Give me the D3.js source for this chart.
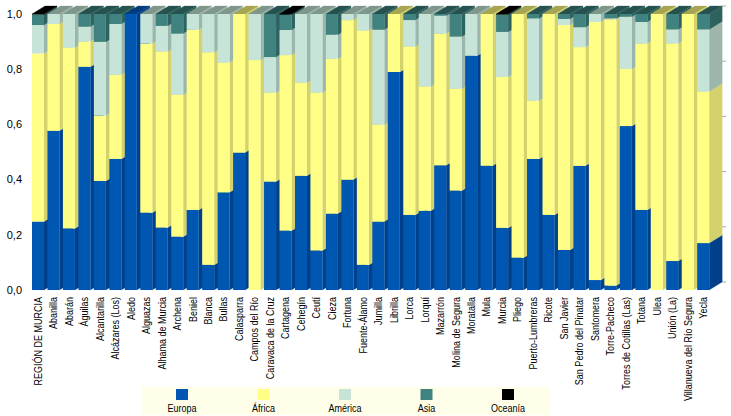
<!DOCTYPE html>
<html><head><meta charset="utf-8">
<script src="https://cdn.jsdelivr.net/npm/d3@7"></script>
<style>body{margin:0;background:#fff}svg{display:block}</style>
</head><body><svg id="c" width="731" height="416"></svg>
<script>
const categories = ["REGIÓN DE MURCIA","Abanilla","Abarán","Águilas","Alcantarilla","Alcázares (Los)","Aledo","Alguazas","Alhama de Murcia","Archena","Beniel","Blanca","Bullas","Calasparra","Campos del Río","Caravaca de la Cruz","Cartagena","Cehegín","Ceutí","Cieza","Fortuna","Fuente-Álamo","Jumilla","Librilla","Lorca","Lorquí","Mazarrón","Molina de Segura","Moratalla","Mula","Murcia","Pliego","Puerto-Lumbreras","Ricote","San Javier","San Pedro del Pinatar","Santomera","Torre-Pacheco","Torres de Cotillas (Las)","Totana","Ulea","Unión (La)","Villanueva del Río Segura","Yecla"];
const europa  = [0.248,0.577,0.223,0.809,0.395,0.475,1.000,0.280,0.226,0.193,0.290,0.091,0.354,0.498,0.000,0.393,0.215,0.414,0.143,0.277,0.400,0.091,0.248,0.790,0.272,0.287,0.452,0.360,0.849,0.450,0.225,0.117,0.475,0.272,0.145,0.450,0.036,0.016,0.594,0.290,0.000,0.105,0.000,0.170];
const africa  = [0.609,0.387,0.655,0.091,0.237,0.305,0.000,0.613,0.638,0.514,0.653,0.770,0.470,0.502,0.833,0.322,0.636,0.337,0.572,0.561,0.578,0.849,0.351,0.210,0.610,0.450,0.477,0.369,0.000,0.550,0.547,0.883,0.211,0.728,0.815,0.430,0.935,0.964,0.207,0.603,1.000,0.788,1.000,0.549];
const america = [0.103,0.036,0.122,0.054,0.267,0.184,0.000,0.107,0.093,0.222,0.057,0.139,0.176,0.000,0.167,0.129,0.091,0.249,0.285,0.087,0.022,0.060,0.344,0.000,0.096,0.263,0.065,0.189,0.151,0.000,0.163,0.000,0.298,0.000,0.022,0.072,0.029,0.004,0.189,0.078,0.000,0.051,0.000,0.225];
const asia    = [0.038,0.000,0.000,0.046,0.101,0.036,0.000,0.000,0.043,0.071,0.000,0.000,0.000,0.000,0.000,0.156,0.056,0.000,0.000,0.075,0.000,0.000,0.057,0.000,0.022,0.000,0.006,0.082,0.000,0.000,0.063,0.000,0.016,0.000,0.018,0.048,0.000,0.016,0.010,0.029,0.000,0.056,0.000,0.056];
const oceania = [0.002,0,0,0,0,0,0,0,0,0,0,0,0,0,0,0,0.002,0,0,0,0,0,0,0,0,0,0,0,0,0,0.002,0,0,0,0,0,0,0,0,0,0,0,0,0];
const seriesNames = ["Europa","África","América","Asia","Oceanía"];
const yTicks = [0,0.2,0.4,0.6,0.8,1.0];

const frontCol = ["#0057b2","#ffff88","#c6e5d8","#3f8280","#000000"];
const sideCol  = ["#00408a","#d3d26c","#9db6ac","#2e625f","#000000"];
const topCol   = ["#003d7e","#a8a552","#7e978a","#25524e","#000000"];

const seriesVals = [europa, africa, america, asia, oceania];
const table = categories.map((c,i)=>{
  const o = {cat:c};
  seriesNames.forEach((s,k)=>o[s]=seriesVals[k][i]);
  return o;
});
const stacked = d3.stack().keys(seriesNames)(table);

const svg = d3.select("#c");
const x = d3.scaleBand().domain(categories).range([32,709.2]).paddingInner(0.224).paddingOuter(0);
const y = d3.scaleLinear().domain([0,1]).range([290,14]);
const dx = 13, dy = -8;
const bw = x.bandwidth();
const FONT = "'Liberation Sans', Arial, sans-serif";

// back-wall ticks on the right
svg.append("g").selectAll("line").data(yTicks).join("line")
  .attr("x1", x.range()[1] + dx).attr("x2", x.range()[1] + dx + 4)
  .attr("y1", d => y(d) + dy).attr("y2", d => y(d) + dy)
  .attr("stroke", "#aaa").attr("stroke-width", 1);

// y labels
svg.append("g").selectAll("text").data(yTicks).join("text")
  .attr("x", 22).attr("y", d => y(d)).attr("dy", "0.35em")
  .attr("text-anchor", "end")
  .attr("font-family", FONT)
  .attr("font-size", 11).attr("fill", "#000")
  .text(d => d3.format(".1f")(d).replace(".", ","));

const bars = svg.append("g");
categories.forEach((c, i) => {
  const g = bars.append("g");
  const x0 = x(c), x1 = x0 + bw;
  const segs = [];
  stacked.forEach((s, k) => {
    const v0 = s[i][0], v1 = s[i][1];
    if (v1 - v0 > 0) segs.push({k, v0, v1});
  });
  segs.forEach(sg => {
    const ya = y(sg.v0), yb = y(sg.v1);
    g.append("polygon")
      .attr("points", [[x1, ya], [x1, yb], [x1 + dx, yb + dy], [x1 + dx, ya + dy]].map(p => p.join(",")).join(" "))
      .attr("fill", sideCol[sg.k]).attr("stroke", sideCol[sg.k]).attr("stroke-width", 0.3);
  });
  const topSeg = segs[segs.length - 1];
  const yt = y(topSeg.v1);
  g.append("polygon")
    .attr("points", [[x0, yt], [x1, yt], [x1 + dx, yt + dy], [x0 + dx, yt + dy]].map(p => p.join(",")).join(" "))
    .attr("fill", topCol[topSeg.k]).attr("stroke", topCol[topSeg.k]).attr("stroke-width", 0.3);
  segs.forEach(sg => {
    g.append("rect")
      .attr("x", x0).attr("width", bw)
      .attr("y", y(sg.v1)).attr("height", y(sg.v0) - y(sg.v1))
      .attr("fill", frontCol[sg.k]);
  });
});

// x labels (condensed horizontally along the text direction)
svg.append("g").selectAll("text").data(categories).join("text")
  .attr("transform", d => `translate(${x(d) + bw / 2},297) rotate(-90) scale(0.82,1)`)
  .attr("dy", "0.35em")
  .attr("text-anchor", "end")
  .attr("font-family", FONT)
  .attr("font-size", 11).attr("fill", "#000")
  .text(d => d);

// legend
const lg = svg.append("g");
lg.append("rect").attr("x", 142).attr("y", 387).attr("width", 408).attr("height", 28).attr("fill", "#fefee9");
const lx = d3.scalePoint().domain(seriesNames).range([182, 508]);
lg.selectAll("rect.sw").data(seriesNames).join("rect").attr("class", "sw")
  .attr("x", d => lx(d) - 6).attr("y", 389).attr("width", 12).attr("height", 11)
  .attr("fill", (d, k) => frontCol[k]);
lg.selectAll("text").data(seriesNames).join("text")
  .attr("transform", d => `translate(${lx(d)},412) scale(0.82,1)`)
  .attr("text-anchor", "middle")
  .attr("font-family", FONT)
  .attr("font-size", 11).attr("fill", "#000")
  .text(d => d);
</script>
</body></html>
